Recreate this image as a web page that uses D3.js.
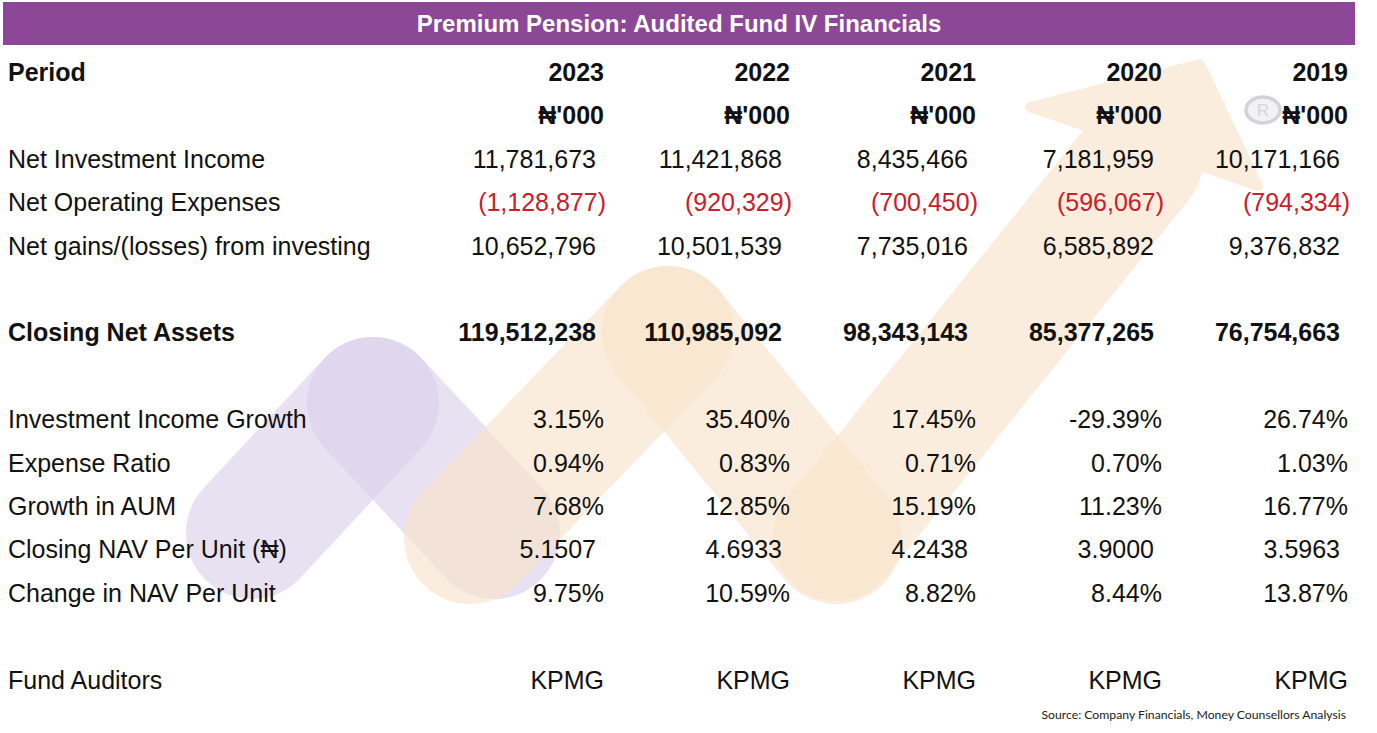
<!DOCTYPE html>
<html>
<head>
<meta charset="utf-8">
<script src="https://cdn.jsdelivr.net/npm/d3@7"></script>
<style>
  html, body { margin: 0; padding: 0; background: #fff; }
  svg { display: block; }
</style>
</head>
<body>
<div id="chart"></div>
<script>
// ---------------- DATA ----------------
const title = "Premium Pension: Audited Fund IV Financials";
const source = "Source: Company Financials, Money Counsellors Analysis";
const years = ["2023", "2022", "2021", "2020", "2019"];
const currencyUnit = "\u20A6'000";
const netInvestmentIncome = [11781673, 11421868, 8435466, 7181959, 10171166];
const netOperatingExpenses = [-1128877, -920329, -700450, -596067, -794334];
const netGains = [10652796, 10501539, 7735016, 6585892, 9376832];
const closingNetAssets = [119512238, 110985092, 98343143, 85377265, 76754663];
const investmentIncomeGrowth = [3.15, 35.40, 17.45, -29.39, 26.74];
const expenseRatio = [0.94, 0.83, 0.71, 0.70, 1.03];
const growthInAUM = [7.68, 12.85, 15.19, 11.23, 16.77];
const closingNAV = [5.1507, 4.6933, 4.2438, 3.9000, 3.5963];
const changeInNAV = [9.75, 10.59, 8.82, 8.44, 13.87];
const auditors = ["KPMG", "KPMG", "KPMG", "KPMG", "KPMG"];

// ---------------- FORMATS ----------------
const comma = d3.format(",");
const acct = v => v < 0 ? "(" + comma(-v) + ")" : comma(v);
const pct = v => (v < 0 ? "-" : "") + Math.abs(v).toFixed(2) + "%";
const nav = v => v.toFixed(4);
const txt = v => v;

const rows = [
  { slot: 0,  label: "Period", values: years, fmt: txt, bold: true, labelBold: true, kind: "text" },
  { slot: 1,  label: "", values: years.map(() => currencyUnit), fmt: txt, bold: true, kind: "text" },
  { slot: 2,  label: "Net Investment Income", values: netInvestmentIncome, fmt: acct, kind: "acct" },
  { slot: 3,  label: "Net Operating Expenses", values: netOperatingExpenses, fmt: acct, kind: "acct" },
  { slot: 4,  label: "Net gains/(losses) from investing", values: netGains, fmt: acct, kind: "acct" },
  { slot: 6,  label: "Closing Net Assets", values: closingNetAssets, fmt: acct, bold: true, labelBold: true, kind: "acct" },
  { slot: 8,  label: "Investment Income Growth", values: investmentIncomeGrowth, fmt: pct, kind: "pct" },
  { slot: 9,  label: "Expense Ratio", values: expenseRatio, fmt: pct, kind: "pct" },
  { slot: 10, label: "Growth in AUM", values: growthInAUM, fmt: pct, kind: "pct" },
  { slot: 11, label: "Closing NAV Per Unit (\u20A6)", values: closingNAV, fmt: nav, kind: "nav" },
  { slot: 12, label: "Change in NAV Per Unit", values: changeInNAV, fmt: pct, kind: "pct" },
  { slot: 14, label: "Fund Auditors", values: auditors, fmt: txt, kind: "text" }
];

// ---------------- LAYOUT ----------------
const W = 1377, H = 733;
const FONT = "'Liberation Sans', Arial, Helvetica, sans-serif";
const svg = d3.select("#chart").append("svg").attr("width", W).attr("height", H);

const x = d3.scaleBand().domain(years).range([418, 1348]).padding(0);
const y = d3.scaleLinear().domain([0, 14]).range([72, 679.6]);

// ---------------- WATERMARK (decorative logo) ----------------
const wm = svg.append("g").attr("class", "watermark");
const purple = "rgb(220,210,236)", orange = "rgb(250,228,203)";
const OP = 0.65;
const SW = 132;
function pill(p1, p2, color) {
  wm.append("g").attr("opacity", OP)
    .append("line")
    .attr("x1", p1[0]).attr("y1", p1[1]).attr("x2", p2[0]).attr("y2", p2[1])
    .attr("stroke", color).attr("stroke-width", SW).attr("stroke-linecap", "round");
}
const pPeak = [373, 403], oPeak = [668, 332], oLow = [836, 538], shaftEnd = [1140, 160];
pill([252, 533], pPeak, purple);
pill(pPeak, [494, 533], purple);
pill([470, 538], oPeak, orange);
pill(oPeak, oLow, orange);
const arrow = wm.append("g").attr("opacity", OP);
arrow.append("line")
  .attr("x1", oLow[0]).attr("y1", oLow[1]).attr("x2", shaftEnd[0]).attr("y2", shaftEnd[1])
  .attr("stroke", orange).attr("stroke-width", SW - 6).attr("stroke-linecap", "round");
arrow.append("polygon")
  .attr("points", [[1030, 107], [1200, 64], [1258, 186]].map(p => p.join(",")).join(" "))
  .attr("fill", orange).attr("stroke", orange).attr("stroke-width", 10).attr("stroke-linejoin", "round");

// registered mark
const reg = svg.append("g").attr("opacity", 0.9);
reg.append("ellipse").attr("cx", 1263).attr("cy", 110).attr("rx", 17).attr("ry", 13)
  .attr("fill", "#f1f1f3").attr("stroke", "#cfcfd3").attr("stroke-width", 3.5);
reg.append("text").attr("x", 1263).attr("y", 110).attr("dy", "0.36em")
  .attr("text-anchor", "middle").attr("font-family", FONT).attr("font-size", 17)
  .attr("fill", "#d2d2d6").text("R");

// ---------------- TITLE BAR ----------------
svg.append("rect").attr("x", 3).attr("y", 2).attr("width", 1352).attr("height", 43)
  .attr("fill", "#8c4896");
svg.append("text").attr("x", 679).attr("y", 23.5).attr("dy", "0.36em")
  .attr("text-anchor", "middle").attr("font-family", FONT).attr("font-weight", "bold")
  .attr("font-size", 24).attr("fill", "#fff").text(title);

// ---------------- TABLE ----------------
const dxFor = (kind, v) => {
  if (kind === "acct") return v < 0 ? 2 : -8;
  if (kind === "nav") return -8;
  return 0;
};

const rowG = svg.append("g").selectAll("g").data(rows).join("g")
  .attr("transform", d => `translate(0,${y(d.slot)})`);

rowG.append("text")
  .attr("x", 8).attr("dy", "0.36em")
  .attr("font-family", FONT).attr("font-size", 25)
  .attr("font-weight", d => d.labelBold ? "bold" : "normal")
  .attr("fill", "#111").text(d => d.label);

rowG.selectAll("text.val")
  .data(d => d.values.map((v, i) => ({ v, i, row: d })))
  .join("text").attr("class", "val")
  .attr("x", d => x(years[d.i]) + x.bandwidth() + dxFor(d.row.kind, d.v))
  .attr("dy", "0.36em")
  .attr("text-anchor", "end")
  .attr("font-family", FONT).attr("font-size", 25)
  .attr("font-weight", d => d.row.bold ? "bold" : "normal")
  .attr("fill", d => (d.row.kind === "acct" && d.v < 0) ? "#c8202a" : "#111")
  .text(d => d.row.fmt(d.v));

// ---------------- SOURCE ----------------
const src = svg.append("text").attr("x", 1346).attr("y", 715).attr("dy", "0.35em")
  .attr("text-anchor", "end").attr("font-family", "Lato, 'Open Sans', sans-serif")
  .attr("font-size", 12).attr("fill", "#222").text(source);
const len = src.node().getComputedTextLength();
if (len > 0) src.attr("font-size", 12 * 305 / len);
</script>
</body>
</html>
